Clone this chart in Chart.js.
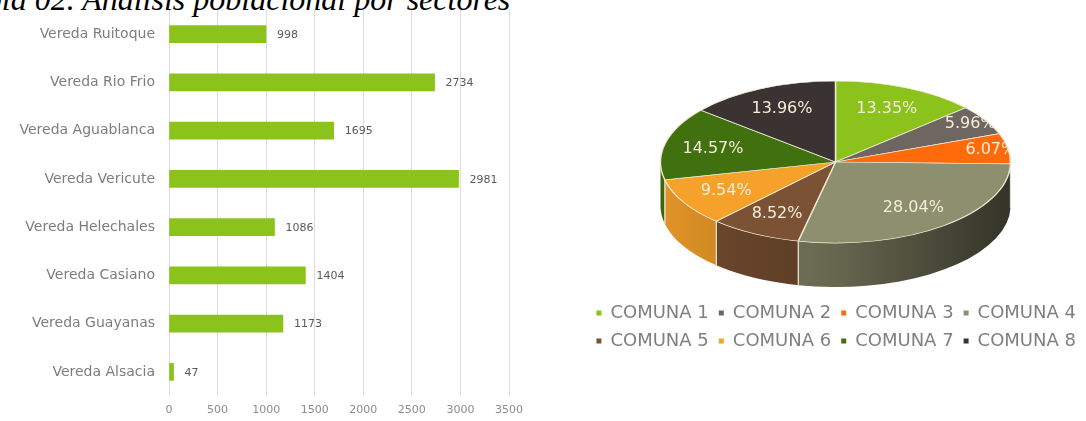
<!DOCTYPE html>
<html lang="es">
<head>
<meta charset="utf-8">
<script src="https://cdn.jsdelivr.net/npm/chart.js@4.4.0/dist/chart.umd.min.js"></script>
<style>
  html, body { margin: 0; padding: 0; background: #fff; }
  body { width: 1086px; height: 421px; position: relative; overflow: hidden; }
  .titulo { position: absolute; left: -45px; top: -17px; font: italic 32px "Liberation Serif", "DejaVu Serif", serif; line-height: 32px; color: #000; white-space: nowrap; }
  #barBox { position: absolute; left: 0; top: 0; width: 545px; height: 421px; }
  #pieBox { position: absolute; left: 545px; top: 0; width: 541px; height: 366px; }
</style>
</head>
<body>
<div class="titulo">Tabla 02. Análisis poblacional por sectores</div>
<div id="barBox"><canvas id="barras"></canvas></div>
<div id="pieBox"><canvas id="torta"></canvas></div>
<script>
// Población por vereda
const veredas = ['Vereda Ruitoque', 'Vereda Rio Frio', 'Vereda Aguablanca', 'Vereda Vericute',
                 'Vereda Helechales', 'Vereda Casiano', 'Vereda Guayanas', 'Vereda Alsacia'];
const habitantes = [998, 2734, 1695, 2981, 1086, 1404, 1173, 47];
const ticksX = [0, 500, 1000, 1500, 2000, 2500, 3000, 3500];

// Distribución por comunas (%)
const comunas = ['COMUNA 1', 'COMUNA 2', 'COMUNA 3', 'COMUNA 4', 'COMUNA 5', 'COMUNA 6', 'COMUNA 7', 'COMUNA 8'];
const porcentajes = [13.35, 5.96, 6.07, 28.04, 8.52, 9.54, 14.57, 13.96];
const coloresComuna = ['#8cc21c', '#6e6660', '#ff6a0a', '#8d8f6e', '#7b5233', '#f5a12a', '#41700e', '#3b3331'];

const FUENTE = '"DejaVu Sans", "Noto Sans", sans-serif';

// valores al final de cada barra
const etiquetasBarras = {
    id: 'etiquetasBarras',
    afterDatasetsDraw(chart) {
        const ctx = chart.ctx;
        const meta = chart.getDatasetMeta(0);
        ctx.save();
        ctx.font = '11px ' + FUENTE;
        ctx.fillStyle = '#595959';
        ctx.textBaseline = 'middle';
        meta.data.forEach((bar, i) => {
            ctx.fillText(String(habitantes[i]), bar.x + 11, bar.y + 1);
        });
        ctx.restore();
    }
};

new Chart(document.getElementById('barras'), {
    type: 'bar',
    data: {
        labels: veredas,
        datasets: [{
            data: habitantes,
            backgroundColor: '#8cc21c',
            barThickness: 17
        }]
    },
    options: {
        indexAxis: 'y',
        responsive: true,
        maintainAspectRatio: false,
        animation: false,
        layout: { padding: { top: 10, right: 36, bottom: 0, left: 0 } },
        plugins: { legend: { display: false }, tooltip: { enabled: false } },
        scales: {
            x: {
                min: 0,
                max: 3500,
                afterBuildTicks: scale => { scale.ticks = ticksX.map(v => ({ value: v })); },
                ticks: { color: '#8c8c8c', font: { family: FUENTE, size: 11 }, padding: 8,
                         callback: v => String(v) },
                grid: { color: '#dcdcdc', drawTicks: false },
                border: { display: false },
                afterFit: scale => { scale.height = 25; }
            },
            y: {
                grid: { display: false, drawTicks: false },
                border: { display: false },
                ticks: { color: '#7d7d7d', font: { family: FUENTE, size: 14 }, padding: 14 },
                afterFit: scale => {
                    scale.width = 169;
                    scale.paddingTop = 0;
                    scale.paddingBottom = 0;
                }
            }
        }
    },
    plugins: [etiquetasBarras]
});

// torta con aspecto 3D: cara superior aplanada + pared lateral
const INCLINACION = 0.463;
const PROFUNDIDAD = 44;
const DESPLAZA_X = 20;
const DESPLAZA_Y = 15;

function sombra(hex, f) {
    const n = parseInt(hex.slice(1), 16);
    const r = Math.round(((n >> 16) & 255) * f);
    const g = Math.round(((n >> 8) & 255) * f);
    const b = Math.round((n & 255) * f);
    return `rgb(${r},${g},${b})`;
}

function geometria(chart) {
    const arcs = chart.getDatasetMeta(0).data;
    const a0 = arcs[0];
    return {
        arcs,
        ox: a0.x, oy: a0.y,
        cx: a0.x + DESPLAZA_X,
        cy: a0.y + DESPLAZA_Y,
        r: a0.outerRadius,
        ry: a0.outerRadius * INCLINACION
    };
}

const torta3D = {
    id: 'torta3D',
    beforeDatasetsDraw(chart) {
        const ctx = chart.ctx;
        const g = geometria(chart);
        ctx.save();
        g.arcs.forEach((arc, i) => {
            [-2 * Math.PI, 0, 2 * Math.PI].forEach(shift => {
                const s = Math.max(arc.startAngle + shift, 0);
                const e = Math.min(arc.endAngle + shift, Math.PI);
                if (e <= s) return;
                const grad = ctx.createLinearGradient(g.cx - g.r, 0, g.cx + g.r, 0);
                grad.addColorStop(0, sombra(coloresComuna[i], 0.92));
                grad.addColorStop(0.5, sombra(coloresComuna[i], 0.72));
                grad.addColorStop(1, sombra(coloresComuna[i], 0.36));
                ctx.beginPath();
                ctx.ellipse(g.cx, g.cy, g.r, g.ry, 0, s, e);
                ctx.ellipse(g.cx, g.cy + PROFUNDIDAD, g.r, g.ry, 0, e, s, true);
                ctx.closePath();
                ctx.fillStyle = grad;
                ctx.fill();
                // aristas verticales entre porciones
                ctx.strokeStyle = '#e9dfc6';
                ctx.lineWidth = 1.2;
                [s, e].forEach(a => {
                    if (a <= 0.001 || a >= Math.PI - 0.001) return;
                    const x = g.cx + Math.cos(a) * g.r;
                    const y = g.cy + Math.sin(a) * g.ry;
                    ctx.beginPath();
                    ctx.moveTo(x, y);
                    ctx.lineTo(x, y + PROFUNDIDAD);
                    ctx.stroke();
                });
            });
        });
        ctx.translate(g.cx, g.cy);
        ctx.scale(1, INCLINACION);
        ctx.translate(-g.ox, -g.oy);
    },
    afterDatasetsDraw(chart) {
        const ctx = chart.ctx;
        ctx.restore();
        const g = geometria(chart);
        ctx.save();
        ctx.beginPath();
        ctx.ellipse(g.cx, g.cy, g.r, g.ry, 0, 0, Math.PI * 2);
        ctx.clip();
        ctx.font = '16px ' + FUENTE;
        ctx.fillStyle = '#f3edda';
        ctx.textAlign = 'center';
        ctx.textBaseline = 'middle';
        g.arcs.forEach((arc, i) => {
            const mid = (arc.startAngle + arc.endAngle) / 2;
            const f = porcentajes[i] < 7 ? 0.9 : 0.72;
            const x = g.cx + Math.cos(mid) * g.r * f;
            const y = g.cy + Math.sin(mid) * g.ry * f;
            ctx.fillText(porcentajes[i].toFixed(2) + '%', x, y);
        });
        ctx.restore();
    }
};

new Chart(document.getElementById('torta'), {
    type: 'pie',
    data: {
        labels: comunas,
        datasets: [{
            data: porcentajes,
            backgroundColor: coloresComuna,
            borderColor: '#efe7d2',
            borderWidth: 1.5,
            radius: 175,
            clip: false
        }]
    },
    options: {
        responsive: true,
        maintainAspectRatio: false,
        animation: false,
        layout: { padding: { left: 0, right: 0, top: 0, bottom: 6 } },
        plugins: {
            tooltip: { enabled: false },
            legend: {
                position: 'bottom',
                align: 'end',
                labels: {
                    usePointStyle: true,
                    pointStyle: 'rect',
                    boxWidth: 5,
                    boxHeight: 5,
                    color: '#7f7f7f',
                    font: { family: FUENTE, size: 18 },
                    padding: 10,
                    generateLabels: chart => Chart.overrides.pie.plugins.legend.labels.generateLabels(chart)
                        .map(item => Object.assign(item, { lineWidth: 0, strokeStyle: item.fillStyle }))
                }
            }
        }
    },
    plugins: [torta3D]
});
</script>
</body>
</html>
